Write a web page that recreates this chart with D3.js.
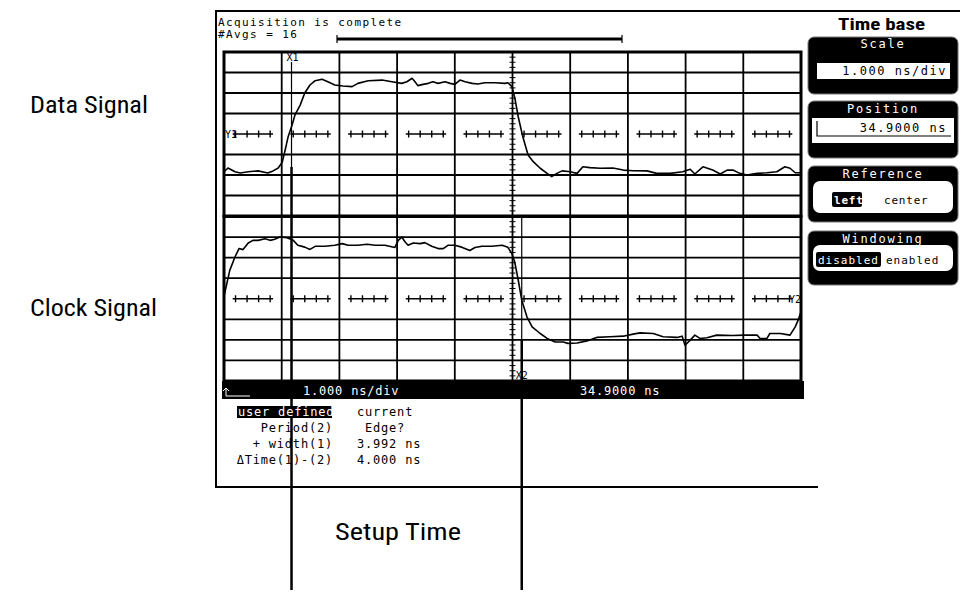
<!DOCTYPE html>
<html><head><meta charset="utf-8">
<script src="https://cdn.jsdelivr.net/npm/d3@7"></script>
<style>
html,body{margin:0;padding:0;background:#fff;}
svg{display:block;}
.mono{font-family:"DejaVu Sans Mono","Liberation Mono",monospace;}
.lbl{font-family:"Liberation Sans Narrow","Roboto Condensed","Liberation Sans",Arial,sans-serif;}
</style></head><body>
<svg id="c" width="960" height="593"></svg>
<script>
// ---- data (time in ns from left screen edge, level in divisions) ----
const dataTime = [0,0.07,0.19,0.28,0.42,0.59,0.76,0.85,0.94,1.01,1.06,1.11,1.18,1.23,1.32,1.40,1.49,1.58,1.70,1.80,1.92,2.06,2.22,2.32,2.50,2.74,2.91,3.08,3.17,3.26,3.31,3.36,3.45,3.54,3.62,3.71,3.83,3.92,4.00,4.09,4.18,4.30,4.40,4.52,4.70,4.87,4.92,4.99,5.04,5.10,5.18,5.27,5.36,5.48,5.60,5.68,5.77,5.86,6.00,6.12,6.22,6.34,6.52,6.74,6.92,7.09,7.33,7.50,7.73,7.95,8.08,8.16,8.30,8.47,8.60,8.72,8.82,8.94,9.06,9.24,9.41,9.58,9.72,9.81,9.90,10.0];
const dataLevel = [-1.84,-1.66,-1.84,-1.90,-1.84,-1.80,-1.90,-1.80,-1.66,-1.37,-0.78,-0.15,0.44,0.93,1.41,2.00,2.39,2.60,2.67,2.55,2.39,2.34,2.31,2.47,2.60,2.63,2.55,2.47,2.55,2.72,2.55,2.36,2.42,2.47,2.55,2.47,2.55,2.47,2.42,2.63,2.55,2.47,2.44,2.50,2.50,2.47,2.50,2.31,1.76,0.83,-0.15,-1.02,-1.35,-1.67,-1.92,-2.08,-1.92,-1.80,-1.84,-1.92,-1.60,-1.64,-1.67,-1.66,-1.76,-1.79,-1.80,-1.92,-1.92,-1.84,-1.72,-1.95,-1.60,-1.76,-1.95,-1.76,-1.76,-1.92,-2.00,-1.92,-1.89,-1.84,-1.60,-1.67,-1.89,-1.89];
const clockTime = [0,0.10,0.19,0.26,0.33,0.42,0.50,0.59,0.71,0.80,0.88,0.97,1.09,1.20,1.28,1.40,1.49,1.58,1.75,1.92,2.05,2.15,2.32,2.48,2.62,2.79,2.96,3.02,3.08,3.14,3.19,3.28,3.40,3.48,3.60,3.71,3.80,3.88,4.00,4.12,4.26,4.35,4.47,4.64,4.82,4.92,4.99,5.04,5.10,5.16,5.25,5.34,5.48,5.60,5.74,5.88,5.96,6.12,6.29,6.46,6.69,6.92,7.09,7.21,7.44,7.61,7.85,7.94,7.99,8.08,8.16,8.25,8.37,8.54,8.82,9.03,9.24,9.29,9.41,9.46,9.64,9.81,9.90,9.95,10.0];
const clockLevel = [0.12,1.38,2.03,2.44,2.39,2.71,2.84,2.84,2.92,2.84,2.89,3.00,2.97,2.84,2.60,2.51,2.40,2.55,2.55,2.60,2.68,2.60,2.60,2.65,2.60,2.60,2.49,2.84,3.00,2.76,2.60,2.71,2.68,2.73,2.55,2.44,2.44,2.60,2.60,2.51,2.35,2.49,2.55,2.55,2.60,2.50,2.19,1.77,0.90,-0.07,-0.88,-1.37,-1.69,-1.93,-2.10,-2.10,-2.17,-2.15,-2.05,-1.88,-1.85,-1.82,-1.72,-1.66,-1.69,-1.85,-1.88,-1.82,-2.26,-2.01,-1.77,-1.93,-1.90,-1.77,-1.79,-1.77,-1.77,-1.93,-1.93,-1.69,-1.69,-1.77,-1.37,-1.04,-0.64];
const cursorTimes = [1.17, 5.16];
const cursorNames = ["X1", "X2"];
const channelNames = ["Y1", "Y2"];
const headerLines = ["Acquisition is complete", "#Avgs = 16"];
const statusLabels = ["1.000 ns/div", "34.9000 ns"];
const measureHeader = ["user defined", "current"];
const measureNames = ["Period(2)", "+ width(1)", "\u0394Time(1)-(2)"];
const measureValues = ["Edge?", "3.992 ns", "4.000 ns"];
const signalNames = ["Data Signal", "Clock Signal"];
const annotation = "Setup Time";
const panelTitle = "Time base";
const panelNames = ["Scale", "Position", "Reference", "Windowing"];
const panelValues = ["1.000 ns/div", "34.9000 ns"];
const referenceOptions = ["left", "center"];
const windowingOptions = ["disabled", "enabled"];

// ---- scales ----
const svg = d3.select("#c");
const x = d3.scaleLinear().domain([0, 10]).range([224, 801]);
const yUp = d3.scaleLinear().domain([-4, 4]).range([216, 52]);
const yLo = d3.scaleLinear().domain([-4, 4]).range([381, 216.5]);
const divX = d3.range(0, 11);
const divY = d3.range(-4, 5);

// outer frame
svg.append("path").attr("d", "M960,11 H216 V487 H818")
  .attr("fill", "none").attr("stroke", "#000").attr("stroke-width", 2);

// header text
svg.selectAll("text.hdr").data(headerLines).enter().append("text")
  .attr("class", "mono hdr").attr("x", 218).attr("y", (d, i) => 26 + i * 12)
  .attr("font-size", 11).attr("letter-spacing", 1.4).text(d => d);
// averaging bar
svg.append("line").attr("x1", 337).attr("x2", 622).attr("y1", 39).attr("y2", 39)
  .attr("stroke", "#000").attr("stroke-width", 3);
[337, 622].forEach(px => svg.append("line").attr("x1", px).attr("x2", px)
  .attr("y1", 35).attr("y2", 43).attr("stroke", "#000").attr("stroke-width", 1.2));

// graticules
function graticule(y) {
  const g = svg.append("g");
  g.selectAll("line.v").data(divX.slice(1, -1)).enter().append("line")
    .attr("x1", d => x(d)).attr("x2", d => x(d))
    .attr("y1", y(4)).attr("y2", y(-4)).attr("stroke", "#000").attr("stroke-width", 1.8);
  g.selectAll("line.h").data(divY.filter(d => d !== 0 && Math.abs(d) !== 4)).enter().append("line")
    .attr("x1", x(0)).attr("x2", x(10))
    .attr("y1", d => y(d)).attr("y2", d => y(d)).attr("stroke", "#000").attr("stroke-width", 1.8);
  divX.slice(0, -1).forEach(i => {
    g.append("line").attr("x1", x(i + 0.15)).attr("x2", x(i + 0.85))
      .attr("y1", y(0)).attr("y2", y(0)).attr("stroke", "#000").attr("stroke-width", 1.4);
    [0.2, 0.4, 0.6, 0.8].forEach(f => g.append("line")
      .attr("x1", x(i + f)).attr("x2", x(i + f)).attr("y1", y(0) - 3.5).attr("y2", y(0) + 3.5)
      .attr("stroke", "#000").attr("stroke-width", 1.4));
  });
  d3.range(-4, 4.01, 0.25).forEach(v => g.append("line")
    .attr("x1", x(5) - 3).attr("x2", x(5) + 3).attr("y1", y(v)).attr("y2", y(v))
    .attr("stroke", "#000").attr("stroke-width", 1));
  g.append("rect").attr("x", x(0)).attr("y", y(4)).attr("width", x(10) - x(0))
    .attr("height", y(-4) - y(4)).attr("fill", "none").attr("stroke", "#000").attr("stroke-width", 3);
  return g;
}
graticule(yUp);
graticule(yLo);

// waveforms
function trace(times, levels, y) {
  const pts = d3.range(Math.min(times.length, levels.length)).map(i => [times[i], levels[i]]);
  svg.append("path").datum(pts)
    .attr("d", d3.line().x(d => x(d[0])).y(d => y(d[1])))
    .attr("fill", "none").attr("stroke", "#000").attr("stroke-width", 1.6)
    .attr("stroke-linejoin", "round");
}
trace(dataTime, dataLevel, yUp);
trace(clockTime, clockLevel, yLo);

// channel markers
svg.append("text").attr("class", "mono").attr("x", x(0) + 1).attr("y", yUp(0) + 4)
  .attr("font-size", 10).text(channelNames[0]);
svg.append("text").attr("class", "mono").attr("x", x(10) - 12).attr("y", yLo(0) + 4)
  .attr("font-size", 10).text(channelNames[1]);

// status bar
svg.append("rect").attr("x", 222).attr("y", 381).attr("width", 582).attr("height", 18).attr("fill", "#000");
svg.append("path").attr("d", "M226,396 H250 M226,396 V388 M223,391 L226,388 L229,391")
  .attr("fill", "none").attr("stroke", "#fff").attr("stroke-width", 1);
svg.append("text").attr("class", "mono").attr("x", 303).attr("y", 395).attr("fill", "#fff")
  .attr("font-size", 12).attr("letter-spacing", 0.8).text(statusLabels[0]);
svg.append("text").attr("class", "mono").attr("x", 580).attr("y", 395).attr("fill", "#fff")
  .attr("font-size", 12).attr("letter-spacing", 0.8).text(statusLabels[1]);

// cursors
const c1 = x(cursorTimes[0]), c2 = x(cursorTimes[1]);
svg.append("line").attr("x1", c1).attr("x2", c1).attr("y1", 62).attr("y2", 167).attr("stroke", "#000").attr("stroke-width", 1.2);
svg.append("line").attr("x1", c1).attr("x2", c1).attr("y1", 167).attr("y2", 590).attr("stroke", "#000").attr("stroke-width", 2.5);
svg.append("line").attr("x1", c2).attr("x2", c2).attr("y1", 217).attr("y2", 340).attr("stroke", "#000").attr("stroke-width", 1.2);
svg.append("line").attr("x1", c2).attr("x2", c2).attr("y1", 340).attr("y2", 590).attr("stroke", "#000").attr("stroke-width", 2.5);
svg.append("text").attr("class", "mono").attr("x", c1 - 5).attr("y", 61).attr("font-size", 10).text(cursorNames[0]);
svg.append("text").attr("class", "mono").attr("x", c2 - 6).attr("y", 379).attr("font-size", 10).text(cursorNames[1]);

// measurement block
svg.append("rect").attr("x", 237).attr("y", 406).attr("width", 95).attr("height", 12).attr("fill", "#000");
svg.append("text").attr("class", "mono").attr("x", 238).attr("y", 416).attr("fill", "#fff")
  .attr("font-size", 12).attr("letter-spacing", 0.8).text(measureHeader[0]);
svg.append("text").attr("class", "mono").attr("x", 357).attr("y", 416)
  .attr("font-size", 12).attr("letter-spacing", 0.8).text(measureHeader[1]);
measureNames.forEach((t, i) => svg.append("text").attr("class", "mono")
  .attr("x", 333).attr("y", 432 + i * 16).attr("text-anchor", "end")
  .attr("font-size", 12).attr("letter-spacing", 0.8).text(t));
measureValues.forEach((t, i) => svg.append("text").attr("class", "mono")
  .attr("x", i === 0 ? 365 : 357).attr("y", 432 + i * 16)
  .attr("font-size", 12).attr("letter-spacing", 0.8).text(t));

// left labels
svg.append("text").attr("class", "lbl").attr("x", 30).attr("y", 113).attr("font-size", 23)
  .attr("textLength", 118).attr("lengthAdjust", "spacingAndGlyphs").text(signalNames[0]);
svg.append("text").attr("class", "lbl").attr("x", 30).attr("y", 316).attr("font-size", 23)
  .attr("textLength", 127).attr("lengthAdjust", "spacingAndGlyphs").text(signalNames[1]);
svg.append("text").attr("class", "lbl").attr("x", 335).attr("y", 540).attr("font-size", 24)
  .attr("textLength", 126).attr("lengthAdjust", "spacingAndGlyphs").text(annotation);

// right panel
svg.append("text").attr("class", "lbl").attr("x", 838).attr("y", 30).attr("font-size", 16)
  .attr("font-weight", "bold").attr("textLength", 87).attr("lengthAdjust", "spacingAndGlyphs").text(panelTitle);
const boxes = [[37, 57], [101, 57], [166, 56], [231, 54]];
boxes.forEach((b, i) => {
  svg.append("rect").attr("x", 808).attr("y", b[0]).attr("width", 150).attr("height", b[1])
    .attr("rx", 6).attr("fill", "#000").attr("stroke", "#777").attr("stroke-width", 1);
  svg.append("text").attr("class", "mono").attr("x", 883).attr("y", b[0] + 12 - (i === 0 ? 1 : 0))
    .attr("text-anchor", "middle").attr("fill", "#fff").attr("font-size", 12)
    .attr("letter-spacing", 1.8).text(panelNames[i]);
});
svg.append("rect").attr("x", 817).attr("y", 63).attr("width", 133).attr("height", 16).attr("fill", "#fff");
svg.append("text").attr("class", "mono").attr("x", 947).attr("y", 75).attr("text-anchor", "end")
  .attr("font-size", 12).attr("letter-spacing", 1.5).text(panelValues[0]);
svg.append("rect").attr("x", 812).attr("y", 118).attr("width", 142).attr("height", 25).attr("fill", "#fff");
svg.append("path").attr("d", "M817,121 V136 H951").attr("fill", "none").attr("stroke", "#000").attr("stroke-width", 1.2);
svg.append("text").attr("class", "mono").attr("x", 947).attr("y", 132).attr("text-anchor", "end")
  .attr("font-size", 12).attr("letter-spacing", 1.5).text(panelValues[1]);
// reference field
svg.append("rect").attr("x", 813).attr("y", 181).attr("width", 140).attr("height", 32).attr("rx", 7).attr("fill", "#fff");
svg.append("rect").attr("x", 832).attr("y", 192).attr("width", 30).attr("height", 15).attr("rx", 2).attr("fill", "#000");
svg.append("text").attr("class", "mono").attr("x", 834).attr("y", 204).attr("fill", "#fff")
  .attr("font-size", 11).attr("letter-spacing", 0.8).attr("font-weight", "bold").text(referenceOptions[0]);
svg.append("text").attr("class", "mono").attr("x", 884).attr("y", 204)
  .attr("font-size", 11).attr("letter-spacing", 0.8).text(referenceOptions[1]);
// windowing field
svg.append("rect").attr("x", 813).attr("y", 245).attr("width", 140).attr("height", 26).attr("rx", 7).attr("fill", "#fff");
svg.append("rect").attr("x", 816).attr("y", 252).attr("width", 65).attr("height", 15).attr("rx", 2).attr("fill", "#000");
svg.append("text").attr("class", "mono").attr("x", 818).attr("y", 264).attr("fill", "#fff")
  .attr("font-size", 11).attr("letter-spacing", 1).text(windowingOptions[0]);
svg.append("text").attr("class", "mono").attr("x", 886).attr("y", 264)
  .attr("font-size", 11).attr("letter-spacing", 1).text(windowingOptions[1]);
</script>
</body></html>
